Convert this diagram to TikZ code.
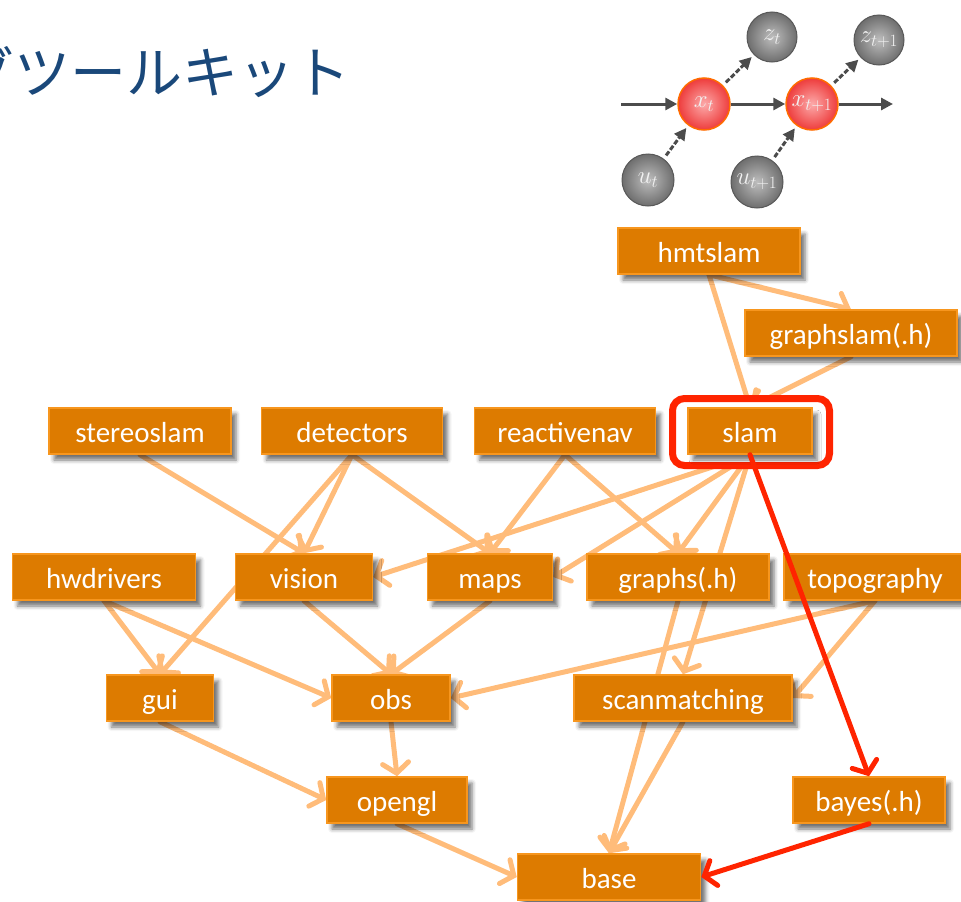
\documentclass[tikz,border=0pt]{standalone}
\usepackage{fontspec}
\setmainfont{Carlito}
\newfontfamily\jpfont{Noto Sans CJK JP}
\usetikzlibrary{shadows,shadows.blur,arrows.meta,backgrounds}
\definecolor{pkgfill}{RGB}{221,123,0}
\definecolor{pkgdraw}{RGB}{247,150,30}
\definecolor{deplink}{RGB}{255,188,122}
\definecolor{hilite}{RGB}{255,36,0}
\definecolor{titleblue}{RGB}{26,72,122}
\definecolor{balllight}{RGB}{190,190,190}
\definecolor{balldark}{RGB}{110,110,110}
\definecolor{redlight}{RGB}{252,170,170}
\definecolor{reddark}{RGB}{238,60,60}

\begin{document}
\begin{tikzpicture}[x=1pt,y=-1pt,
	pkg/.style={draw=pkgdraw,line width=1.5pt,fill=pkgfill,text=white,minimum height=46pt,inner sep=0pt,text height=24pt,text depth=2pt,font=\fontsize{29}{30}\selectfont,blur shadow={shadow xshift=5pt,shadow yshift=-6pt,shadow blur radius=4pt,shadow opacity=55}},
	dep/.style={draw=deplink,line width=5pt,line cap=round,-{Straight Barb[length=10pt,width=26pt,line cap=round]}},
	hot/.style={draw=hilite,line width=5pt,line cap=round,-{Straight Barb[length=10pt,width=26pt,line cap=round]}},
	gball/.style={circle,minimum size=50pt,inner sep=0pt,draw=balldark!80!black,line width=1pt,inner color=balllight,outer color=balldark,text=white!90!gray,font=\fontsize{26}{26}\selectfont},
	rball/.style={gball,inner color=redlight,outer color=reddark,draw=orange!85!red,line width=1.5pt,minimum size=52pt},
	flow/.style={draw=gray!60!black,line width=3pt,-{Triangle[length=12pt,width=12pt]}}]
	\useasboundingbox (0,0) rectangle (961,902);

	\node (title) at (354,72)[anchor=east,text=titleblue,font=\jpfont\fontsize{56}{60}\selectfont]{グツールキット} ;

	\node (zt) at (772,37)[gball]{$z_t$} ;
	\node (ztt) at (879,40)[gball]{$z_{t+1}$} ;
	\node (xt) at (704,104)[rball]{$x_t$} ;
	\node (xtt) at (812,104)[rball]{$x_{t+1}$} ;
	\node (ut) at (648,180)[gball,minimum size=52pt]{$u_t$} ;
	\node (utt) at (757,182)[gball,minimum size=52pt]{$u_{t+1}$} ;
	\coordinate (xin) at (621,104) ;
	\coordinate (xout) at (893,104) ;
	\draw[flow] (xin) -- (xt) ;
	\draw[flow] (xt) -- (xtt) ;
	\draw[flow] (xtt) -- (xout) ;
	\draw[flow,dash pattern=on 5pt off 2pt,shorten <=4pt,shorten >=3pt] (xt) -- (zt) ;
	\draw[flow,dash pattern=on 5pt off 2pt,shorten <=4pt,shorten >=3pt] (xtt) -- (ztt) ;
	\draw[flow,dash pattern=on 5pt off 2pt,shorten <=4pt,shorten >=3pt] (ut) -- (xt) ;
	\draw[flow,dash pattern=on 5pt off 2pt,shorten <=4pt,shorten >=3pt] (utt) -- (xtt) ;

	\node (hmtslam) at (709,251)[pkg,minimum width=182pt]{hmtslam} ;
	\node (graphslam) at (851,333)[pkg,minimum width=212pt]{graphslam(.h)} ;
	\node (focus) at (751,432)[draw=hilite,line width=7pt,rounded corners=12pt,fill=white,minimum width=157pt,minimum height=67pt]{} ;
	\node (slam) at (750,431)[pkg,minimum width=124pt]{slam} ;
	\node (stereoslam) at (140,431)[pkg,minimum width=182pt]{stereoslam} ;
	\node (detectors) at (352,431)[pkg,minimum width=181pt]{detectors} ;
	\node (reactivenav) at (565,431)[pkg,minimum width=181pt]{reactivenav} ;
	\node (hwdrivers) at (104,577)[pkg,minimum width=183pt]{hwdrivers} ;
	\node (vision) at (304,577)[pkg,minimum width=137pt]{vision} ;
	\node (maps) at (490,577)[pkg,minimum width=125pt]{maps} ;
	\node (graphs) at (678,577)[pkg,minimum width=182pt]{graphs(.h)} ;
	\node (topography) at (875,577)[pkg,minimum width=182pt]{topography} ;
	\node (gui) at (160,698)[pkg,minimum width=107pt]{gui} ;
	\node (obs) at (391,698)[pkg,minimum width=118pt]{obs} ;
	\node (scanmatching) at (683,698)[pkg,minimum width=218pt]{scanmatching} ;
	\node (opengl) at (397,800)[pkg,minimum width=140pt]{opengl} ;
	\node (bayes) at (869,800)[pkg,minimum width=152pt]{bayes(.h)} ;
	\node (base) at (609,877)[pkg,minimum width=183pt]{base} ;

	\begin{scope}[on background layer]
		\draw[dep] (hmtslam.south) -- (graphslam.north) ;
		\draw[dep] (hmtslam.south) -- (slam.north) ;
		\draw[dep] (graphslam.south) -- (slam.north) ;
		\draw[dep] (stereoslam.south) -- (vision.north) ;
		\draw[dep] (detectors.south) -- (vision.north) ;
		\draw[dep] (detectors.south) -- (gui.north) ;
		\draw[dep] (detectors.south) -- (maps.north) ;
		\draw[dep] (reactivenav.south) -- (maps.north) ;
		\draw[dep] (reactivenav.south) -- (graphs.north) ;
		\draw[dep] (slam.south) -- (vision.east) ;
		\draw[dep] (slam.south) -- (maps.east) ;
		\draw[dep] (slam.south) -- (graphs.north) ;
		\draw[dep] (slam.south) -- (scanmatching.north) ;
		\draw[dep] (hwdrivers.south) -- (gui.north) ;
		\draw[dep] (hwdrivers.south) -- (obs.west) ;
		\draw[dep] (vision.south) -- (obs.north) ;
		\draw[dep] (maps.south) -- (obs.north) ;
		\draw[dep] (graphs.south) -- (base.north) ;
		\draw[dep] (topography.south) -- (obs.east) ;
		\draw[dep] (topography.south) -- (scanmatching.east) ;
		\draw[dep] (gui.south) -- (opengl.west) ;
		\draw[dep] (obs.south) -- (opengl.north) ;
		\draw[dep] (opengl.south) -- (base.west) ;
		\draw[dep] (scanmatching.south) -- (base.north) ;
	\end{scope}

	\draw[hot] (slam.south) -- (bayes.north) ;
	\draw[hot] (bayes.south) -- (base.east) ;
\end{tikzpicture}
\end{document}
